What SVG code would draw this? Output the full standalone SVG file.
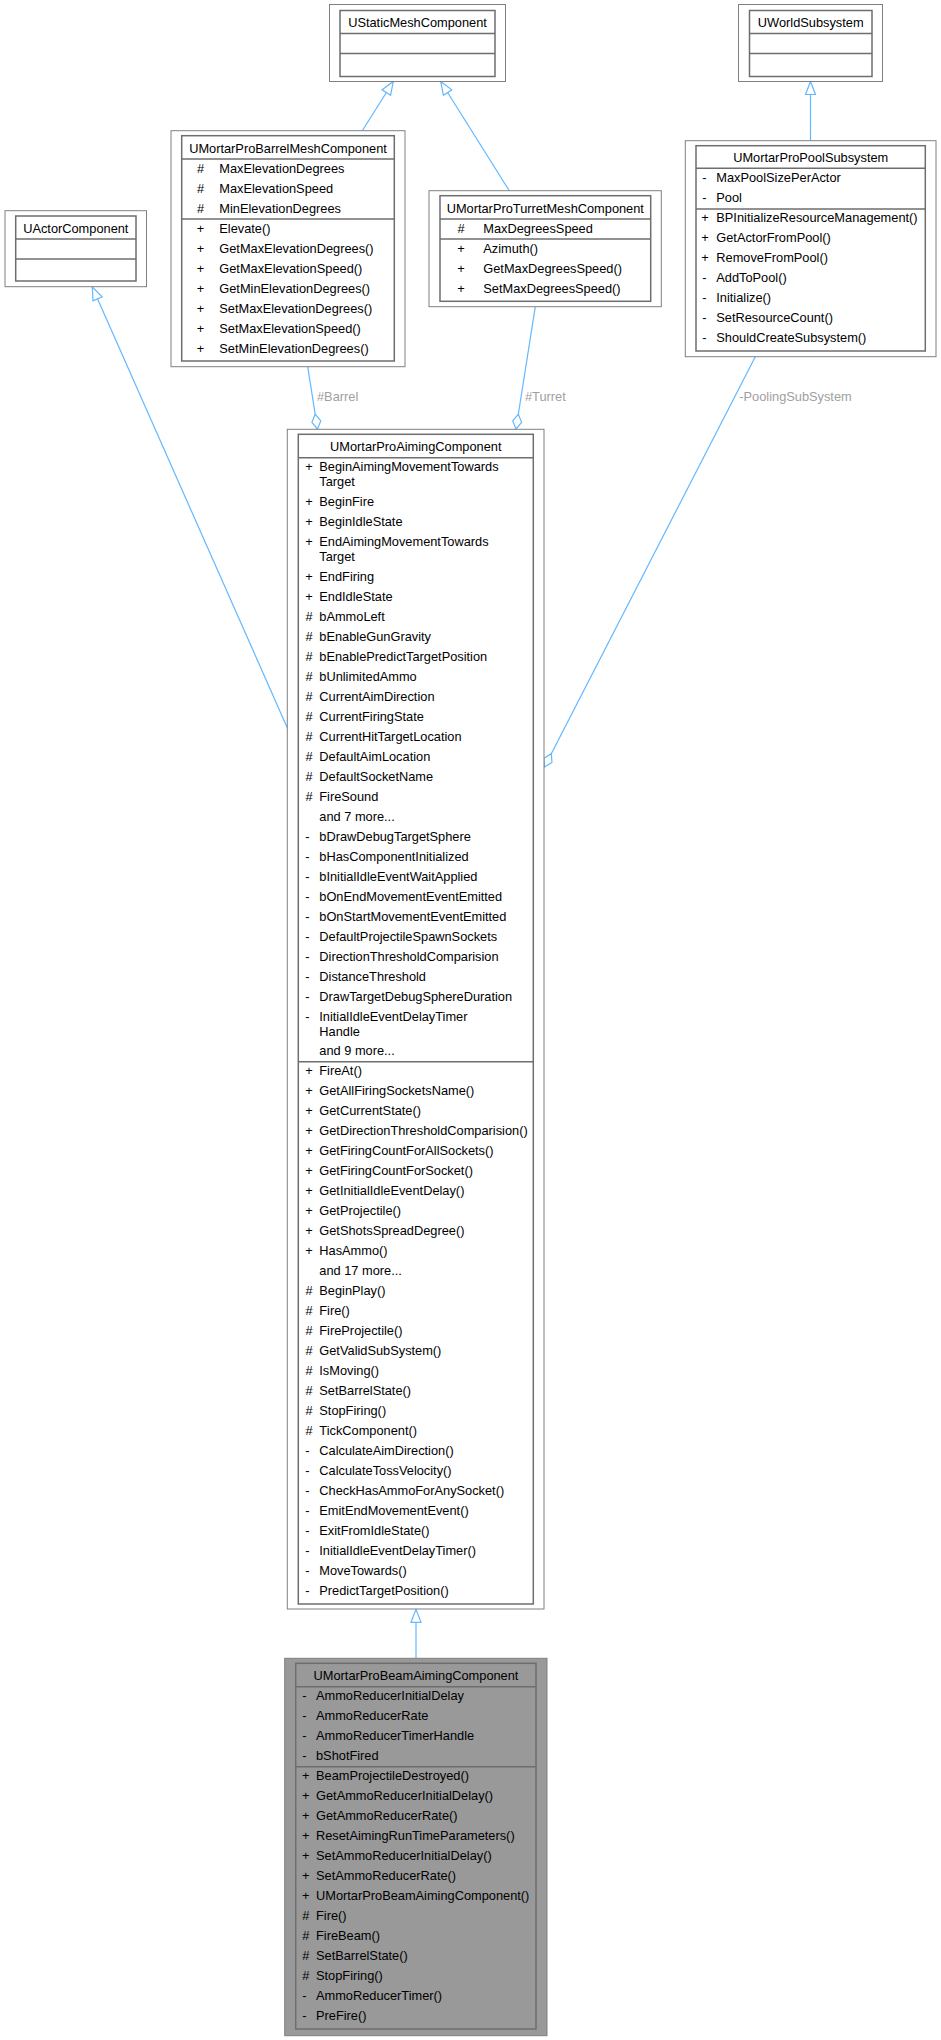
<svg xmlns="http://www.w3.org/2000/svg" width="941" height="2040" viewBox="0 0 941 2040">
<style>
text{font-family:"Liberation Sans",Arial,Helvetica,sans-serif;font-size:12.8px;fill:#000}
.c{text-anchor:middle}
.o{fill:#fff;stroke:#808080;stroke-width:1}
.i{fill:#fff;stroke:#6e6e6e;stroke-width:1.5}
.hl .o,.hl .i{fill:#999}
.s{stroke:#6e6e6e;stroke-width:1.5}
.e{stroke:#63b8ff;stroke-width:1.2;fill:none}
.lbl{fill:#a0a0a0}
</style>
<defs>
<marker id="inh" markerUnits="userSpaceOnUse" markerWidth="15" markerHeight="12" refX="13" refY="5" orient="auto" overflow="visible">
<path d="M0,0 L13,5 L0,10 Z" fill="#fff" stroke="#63b8ff" stroke-width="1.2"/>
</marker>
<marker id="agg" markerUnits="userSpaceOnUse" markerWidth="16" markerHeight="11" refX="15" refY="5" orient="auto" overflow="visible">
<path d="M0,5 L7.5,0.5 L15,5 L7.5,9.5 Z" fill="#fff" stroke="#63b8ff" stroke-width="1.2"/>
</marker>
</defs>

<g id="connectors">
<line class="e" x1="362.3" y1="130.7" x2="393.3" y2="81.5" marker-end="url(#inh)"/>
<line class="e" x1="509.3" y1="190.7" x2="440.7" y2="81.5" marker-end="url(#inh)"/>
<line class="e" x1="810.5" y1="140.7" x2="810.5" y2="81.5" marker-end="url(#inh)"/>
<line class="e" x1="287.8" y1="729" x2="92.3" y2="287" marker-end="url(#inh)"/>
<line class="e" x1="416" y1="1658.3" x2="416" y2="1609.3" marker-end="url(#inh)"/>
<line class="e" x1="307.7" y1="366.7" x2="317.5" y2="429" marker-end="url(#agg)"/>
<line class="e" x1="535.3" y1="306.7" x2="516" y2="429" marker-end="url(#agg)"/>
<line class="e" x1="755.3" y1="356.7" x2="544.5" y2="767" marker-end="url(#agg)"/>
<text class="lbl" x="317" y="401.2">#Barrel</text>
<text class="lbl" x="525" y="401.2">#Turret</text>
<text class="lbl" x="739.3" y="401.2">-PoolingSubSystem</text>
</g>

<g id="UStaticMeshComponent">
<rect class="o" x="329.5" y="4.5" width="176" height="77"/>
<rect class="i" x="340" y="10.5" width="155" height="66"/>
<line class="s" x1="340" y1="33.5" x2="495" y2="33.5"/>
<line class="s" x1="340" y1="53.5" x2="495" y2="53.5"/>
<text class="c" x="417.5" y="26.8">UStaticMeshComponent</text>
</g>

<g id="UWorldSubsystem">
<rect class="o" x="738.5" y="4.5" width="144" height="77"/>
<rect class="i" x="749.5" y="10.5" width="122.5" height="66"/>
<line class="s" x1="749.5" y1="33.5" x2="872" y2="33.5"/>
<line class="s" x1="749.5" y1="53.5" x2="872" y2="53.5"/>
<text class="c" x="810.7" y="26.8">UWorldSubsystem</text>
</g>

<g id="UActorComponent">
<rect class="o" x="5" y="210.7" width="141.5" height="76"/>
<rect class="i" x="15.7" y="216" width="120.3" height="65"/>
<line class="s" x1="15.7" y1="239" x2="136" y2="239"/>
<line class="s" x1="15.7" y1="259" x2="136" y2="259"/>
<text class="c" x="75.8" y="232.8">UActorComponent</text>
</g>

<g id="UMortarProBarrelMeshComponent">
<rect class="o" x="171" y="130.7" width="234" height="236"/>
<rect class="i" x="181.7" y="135.7" width="212.6" height="225.3"/>
<line class="s" x1="181.7" y1="159" x2="394.3" y2="159"/>
<line class="s" x1="181.7" y1="219" x2="394.3" y2="219"/>
<text class="c" x="288" y="152.8">UMortarProBarrelMeshComponent</text>
<g class="c">
<text x="200.5" y="172.8">#</text><text x="200.5" y="192.8">#</text><text x="200.5" y="212.8">#</text>
<text x="200.5" y="232.8">+</text><text x="200.5" y="252.8">+</text><text x="200.5" y="272.8">+</text><text x="200.5" y="292.8">+</text><text x="200.5" y="312.8">+</text><text x="200.5" y="332.8">+</text><text x="200.5" y="352.8">+</text>
</g>
<text x="219.3" y="172.8">MaxElevationDegrees</text>
<text x="219.3" y="192.8">MaxElevationSpeed</text>
<text x="219.3" y="212.8">MinElevationDegrees</text>
<text x="219.3" y="232.8">Elevate()</text>
<text x="219.3" y="252.8">GetMaxElevationDegrees()</text>
<text x="219.3" y="272.8">GetMaxElevationSpeed()</text>
<text x="219.3" y="292.8">GetMinElevationDegrees()</text>
<text x="219.3" y="312.8">SetMaxElevationDegrees()</text>
<text x="219.3" y="332.8">SetMaxElevationSpeed()</text>
<text x="219.3" y="352.8">SetMinElevationDegrees()</text>
</g>

<g id="UMortarProTurretMeshComponent">
<rect class="o" x="429" y="190.7" width="232.3" height="116"/>
<rect class="i" x="440" y="195.7" width="210.7" height="105.6"/>
<line class="s" x1="440" y1="219" x2="650.7" y2="219"/>
<line class="s" x1="440" y1="239" x2="650.7" y2="239"/>
<text class="c" x="545.3" y="212.8">UMortarProTurretMeshComponent</text>
<g class="c">
<text x="461" y="232.8">#</text><text x="461" y="252.8">+</text><text x="461" y="272.8">+</text><text x="461" y="292.8">+</text>
</g>
<text x="483.3" y="232.8">MaxDegreesSpeed</text>
<text x="483.3" y="252.8">Azimuth()</text>
<text x="483.3" y="272.8">GetMaxDegreesSpeed()</text>
<text x="483.3" y="292.8">SetMaxDegreesSpeed()</text>
</g>

<g id="UMortarProPoolSubsystem">
<rect class="o" x="685.3" y="140.7" width="250.7" height="216"/>
<rect class="i" x="696" y="145.7" width="229.3" height="205.3"/>
<line class="s" x1="696" y1="168.3" x2="925.3" y2="168.3"/>
<line class="s" x1="696" y1="209" x2="925.3" y2="209"/>
<text class="c" x="810.7" y="161.8">UMortarProPoolSubsystem</text>
<g class="c">
<text x="704.5" y="181.8">-</text><text x="704.5" y="201.8">-</text>
<text x="705" y="221.8">+</text><text x="705" y="241.8">+</text><text x="705" y="261.8">+</text>
<text x="704.5" y="281.8">-</text><text x="704.5" y="301.8">-</text><text x="704.5" y="321.8">-</text><text x="704.5" y="341.8">-</text>
</g>
<text x="716.3" y="181.8">MaxPoolSizePerActor</text>
<text x="716.3" y="201.8">Pool</text>
<text x="716.3" y="221.8">BPInitializeResourceManagement()</text>
<text x="716.3" y="241.8">GetActorFromPool()</text>
<text x="716.3" y="261.8">RemoveFromPool()</text>
<text x="716.3" y="281.8">AddToPool()</text>
<text x="716.3" y="301.8">Initialize()</text>
<text x="716.3" y="321.8">SetResourceCount()</text>
<text x="716.3" y="341.8">ShouldCreateSubsystem()</text>
</g>

<g id="UMortarProAimingComponent">
<rect class="o" x="287.3" y="429.3" width="256.7" height="1179.7"/>
<rect class="i" x="298.3" y="434.3" width="235" height="1169.7"/>
<line class="s" x1="298.3" y1="457.7" x2="533.3" y2="457.7"/>
<line class="s" x1="298.3" y1="1061.7" x2="533.3" y2="1061.7"/>
<text class="c" x="415.8" y="450.5">UMortarProAimingComponent</text>
<g class="c">
<text x="309" y="471.2">+</text><text x="309" y="506.2">+</text><text x="309" y="526.2">+</text><text x="309" y="546.2">+</text><text x="309" y="581.2">+</text><text x="309" y="601.2">+</text>
<text x="309" y="621.2">#</text><text x="309" y="641.2">#</text><text x="309" y="661.2">#</text><text x="309" y="681.2">#</text><text x="309" y="701.2">#</text><text x="309" y="721.2">#</text><text x="309" y="741.2">#</text><text x="309" y="761.2">#</text><text x="309" y="781.2">#</text><text x="309" y="801.2">#</text>
<text x="307.5" y="841.2">-</text><text x="307.5" y="861.2">-</text><text x="307.5" y="881.2">-</text><text x="307.5" y="901.2">-</text><text x="307.5" y="921.2">-</text><text x="307.5" y="941.2">-</text><text x="307.5" y="961.2">-</text><text x="307.5" y="981.2">-</text><text x="307.5" y="1001.2">-</text><text x="307.5" y="1021.2">-</text>
<text x="309" y="1075.2">+</text><text x="309" y="1095.2">+</text><text x="309" y="1115.2">+</text><text x="309" y="1135.2">+</text><text x="309" y="1155.2">+</text><text x="309" y="1175.2">+</text><text x="309" y="1195.2">+</text><text x="309" y="1215.2">+</text><text x="309" y="1235.2">+</text><text x="309" y="1255.2">+</text>
<text x="309" y="1295.2">#</text><text x="309" y="1315.2">#</text><text x="309" y="1335.2">#</text><text x="309" y="1355.2">#</text><text x="309" y="1375.2">#</text><text x="309" y="1395.2">#</text><text x="309" y="1415.2">#</text><text x="309" y="1435.2">#</text>
<text x="307.5" y="1455.2">-</text><text x="307.5" y="1475.2">-</text><text x="307.5" y="1495.2">-</text><text x="307.5" y="1515.2">-</text><text x="307.5" y="1535.2">-</text><text x="307.5" y="1555.2">-</text><text x="307.5" y="1575.2">-</text><text x="307.5" y="1595.2">-</text>
</g>
<text x="319.3" y="471.2">BeginAimingMovementTowards</text>
<text x="319.3" y="486.2">Target</text>
<text x="319.3" y="506.2">BeginFire</text>
<text x="319.3" y="526.2">BeginIdleState</text>
<text x="319.3" y="546.2">EndAimingMovementTowards</text>
<text x="319.3" y="561.2">Target</text>
<text x="319.3" y="581.2">EndFiring</text>
<text x="319.3" y="601.2">EndIdleState</text>
<text x="319.3" y="621.2">bAmmoLeft</text>
<text x="319.3" y="641.2">bEnableGunGravity</text>
<text x="319.3" y="661.2">bEnablePredictTargetPosition</text>
<text x="319.3" y="681.2">bUnlimitedAmmo</text>
<text x="319.3" y="701.2">CurrentAimDirection</text>
<text x="319.3" y="721.2">CurrentFiringState</text>
<text x="319.3" y="741.2">CurrentHitTargetLocation</text>
<text x="319.3" y="761.2">DefaultAimLocation</text>
<text x="319.3" y="781.2">DefaultSocketName</text>
<text x="319.3" y="801.2">FireSound</text>
<text x="319.3" y="821.2">and 7 more...</text>
<text x="319.3" y="841.2">bDrawDebugTargetSphere</text>
<text x="319.3" y="861.2">bHasComponentInitialized</text>
<text x="319.3" y="881.2">bInitialIdleEventWaitApplied</text>
<text x="319.3" y="901.2">bOnEndMovementEventEmitted</text>
<text x="319.3" y="921.2">bOnStartMovementEventEmitted</text>
<text x="319.3" y="941.2">DefaultProjectileSpawnSockets</text>
<text x="319.3" y="961.2">DirectionThresholdComparision</text>
<text x="319.3" y="981.2">DistanceThreshold</text>
<text x="319.3" y="1001.2">DrawTargetDebugSphereDuration</text>
<text x="319.3" y="1021.2">InitialIdleEventDelayTimer</text>
<text x="319.3" y="1035.5">Handle</text>
<text x="319.3" y="1055.2">and 9 more...</text>
<text x="319.3" y="1075.2">FireAt()</text>
<text x="319.3" y="1095.2">GetAllFiringSocketsName()</text>
<text x="319.3" y="1115.2">GetCurrentState()</text>
<text x="319.3" y="1135.2">GetDirectionThresholdComparision()</text>
<text x="319.3" y="1155.2">GetFiringCountForAllSockets()</text>
<text x="319.3" y="1175.2">GetFiringCountForSocket()</text>
<text x="319.3" y="1195.2">GetInitialIdleEventDelay()</text>
<text x="319.3" y="1215.2">GetProjectile()</text>
<text x="319.3" y="1235.2">GetShotsSpreadDegree()</text>
<text x="319.3" y="1255.2">HasAmmo()</text>
<text x="319.3" y="1275.2">and 17 more...</text>
<text x="319.3" y="1295.2">BeginPlay()</text>
<text x="319.3" y="1315.2">Fire()</text>
<text x="319.3" y="1335.2">FireProjectile()</text>
<text x="319.3" y="1355.2">GetValidSubSystem()</text>
<text x="319.3" y="1375.2">IsMoving()</text>
<text x="319.3" y="1395.2">SetBarrelState()</text>
<text x="319.3" y="1415.2">StopFiring()</text>
<text x="319.3" y="1435.2">TickComponent()</text>
<text x="319.3" y="1455.2">CalculateAimDirection()</text>
<text x="319.3" y="1475.2">CalculateTossVelocity()</text>
<text x="319.3" y="1495.2">CheckHasAmmoForAnySocket()</text>
<text x="319.3" y="1515.2">EmitEndMovementEvent()</text>
<text x="319.3" y="1535.2">ExitFromIdleState()</text>
<text x="319.3" y="1555.2">InitialIdleEventDelayTimer()</text>
<text x="319.3" y="1575.2">MoveTowards()</text>
<text x="319.3" y="1595.2">PredictTargetPosition()</text>
</g>

<g id="UMortarProBeamAimingComponent" class="hl">
<rect class="o" x="284.7" y="1658.3" width="262.3" height="377.4"/>
<rect class="i" x="295.7" y="1663.3" width="240.3" height="365.7"/>
<line class="s" x1="295.7" y1="1686.7" x2="536" y2="1686.7"/>
<line class="s" x1="295.7" y1="1766.7" x2="536" y2="1766.7"/>
<text class="c" x="416" y="1679.5">UMortarProBeamAimingComponent</text>
<g class="c">
<text x="304.5" y="1700.2">-</text><text x="304.5" y="1720.2">-</text><text x="304.5" y="1740.2">-</text><text x="304.5" y="1760.2">-</text>
<text x="305.7" y="1780.2">+</text><text x="305.7" y="1800.2">+</text><text x="305.7" y="1820.2">+</text><text x="305.7" y="1840.2">+</text><text x="305.7" y="1860.2">+</text><text x="305.7" y="1880.2">+</text><text x="305.7" y="1900.2">+</text>
<text x="305.7" y="1920.2">#</text><text x="305.7" y="1940.2">#</text><text x="305.7" y="1960.2">#</text><text x="305.7" y="1980.2">#</text>
<text x="304.5" y="2000.2">-</text><text x="304.5" y="2020.2">-</text>
</g>
<text x="316" y="1700.2">AmmoReducerInitialDelay</text>
<text x="316" y="1720.2">AmmoReducerRate</text>
<text x="316" y="1740.2">AmmoReducerTimerHandle</text>
<text x="316" y="1760.2">bShotFired</text>
<text x="316" y="1780.2">BeamProjectileDestroyed()</text>
<text x="316" y="1800.2">GetAmmoReducerInitialDelay()</text>
<text x="316" y="1820.2">GetAmmoReducerRate()</text>
<text x="316" y="1840.2">ResetAimingRunTimeParameters()</text>
<text x="316" y="1860.2">SetAmmoReducerInitialDelay()</text>
<text x="316" y="1880.2">SetAmmoReducerRate()</text>
<text x="316" y="1900.2">UMortarProBeamAimingComponent()</text>
<text x="316" y="1920.2">Fire()</text>
<text x="316" y="1940.2">FireBeam()</text>
<text x="316" y="1960.2">SetBarrelState()</text>
<text x="316" y="1980.2">StopFiring()</text>
<text x="316" y="2000.2">AmmoReducerTimer()</text>
<text x="316" y="2020.2">PreFire()</text>
</g>
</svg>
